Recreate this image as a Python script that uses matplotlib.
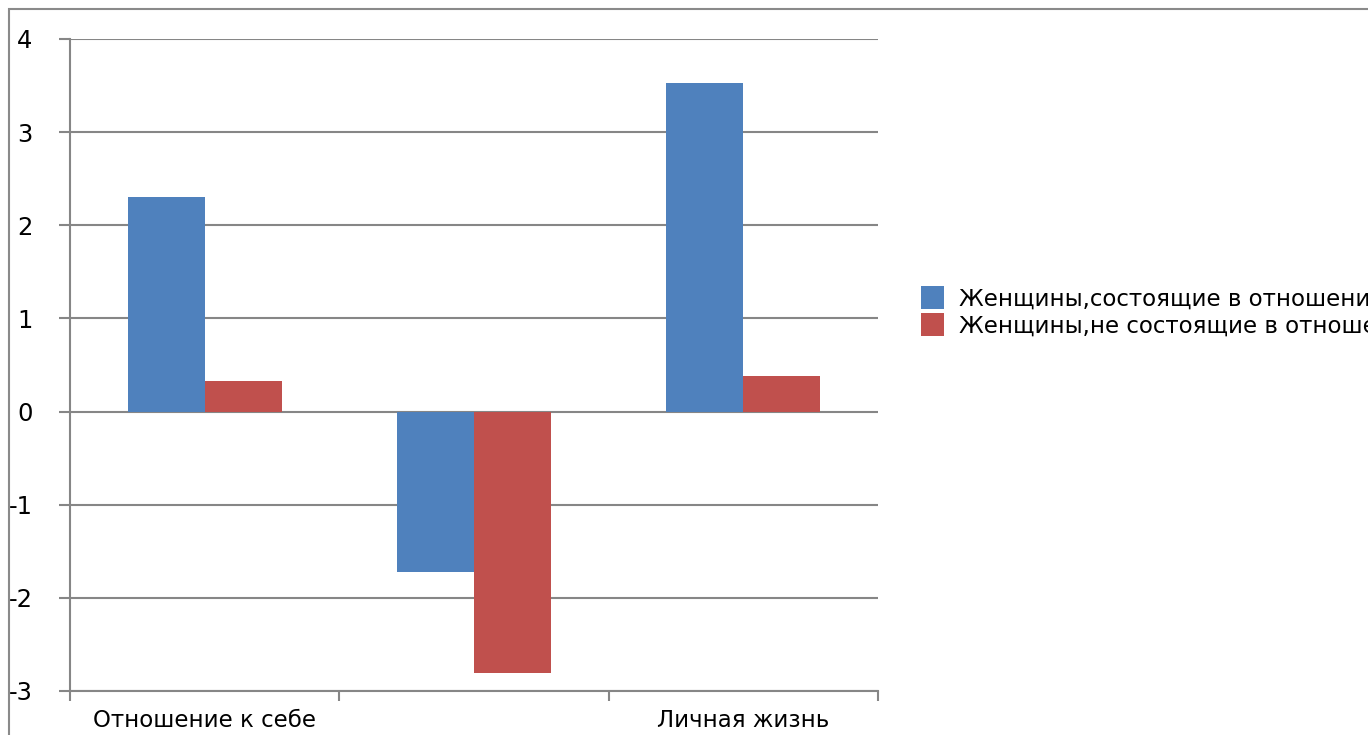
import matplotlib
matplotlib.use("Agg")
import matplotlib.pyplot as plt
import matplotlib.patches as mpatches
import numpy as np

categories = ["Отношение к себе", "", "Личная жизнь"]
in_relation = [2.30, -1.72, 3.53]
not_in_relation = [0.33, -2.81, 0.38]
series_names = ["Женщины,состоящие в отношениях", "Женщины,не состоящие в отношениях"]
yticks = [-3, -2, -1, 0, 1, 2, 3, 4]

plt.rcParams['font.family'] = ['DejaVu Sans']

W, H = 1368, 735
fig = plt.figure(figsize=(W / 100, H / 100), dpi=100)
ax = fig.add_axes([70 / W, 1 - 691 / H, 808 / W, 652 / H])

grey = "#868686"
x = np.arange(len(categories))
bw = 1 / 3.5
b1 = ax.bar(x - bw / 2, in_relation, bw, color="#4F81BD", zorder=3, label=series_names[0])
b2 = ax.bar(x + bw / 2, not_in_relation, bw, color="#C0504D", zorder=3, label=series_names[1])

ax.set_xlim(-0.5, 2.5)
ax.set_ylim(-3, 4)
ax.set_yticks(yticks)
ax.set_yticklabels([str(v) for v in yticks], fontsize=17.5)
ax.set_xticks([-0.5, 0.5, 1.5, 2.5])
ax.set_xticklabels([])
ax.set_xticks(x, minor=True)
ax.set_xticklabels(categories, minor=True, fontsize=16.5)
ax.tick_params(axis="x", which="minor", length=0, pad=13)
ax.tick_params(axis="x", which="major", length=7, width=1.5, color=grey, direction="out")
ax.tick_params(axis="y", length=8, width=1.5, color=grey, pad=19)

ax.grid(axis="y", color=grey, linewidth=1.5, zorder=1)
for s in ["top", "right", "bottom"]:
    ax.spines[s].set_visible(False)
ax.spines["left"].set_color(grey)
ax.spines["left"].set_linewidth(1.5)
ax.axhline(-3, color=grey, linewidth=1.5, zorder=2, clip_on=False)

# outer chart frame (cropped on right and bottom)
frame = mpatches.Rectangle((9 / W, -0.1), 1.2, 1 - 9 / H + 0.1, transform=fig.transFigure,
                           fill=False, edgecolor="#8a8a8a", linewidth=1.5, clip_on=False)
fig.patches.append(frame)

fig.legend(handles=[b1, b2], loc="center left", bbox_to_anchor=(921 / W, 1 - 312 / H),
           frameon=False, fontsize=16.5, handlelength=1.0, handleheight=1.15,
           handletextpad=0.65, labelspacing=0.12, borderaxespad=0, borderpad=0)

fig.savefig("out.png", dpi=100)
